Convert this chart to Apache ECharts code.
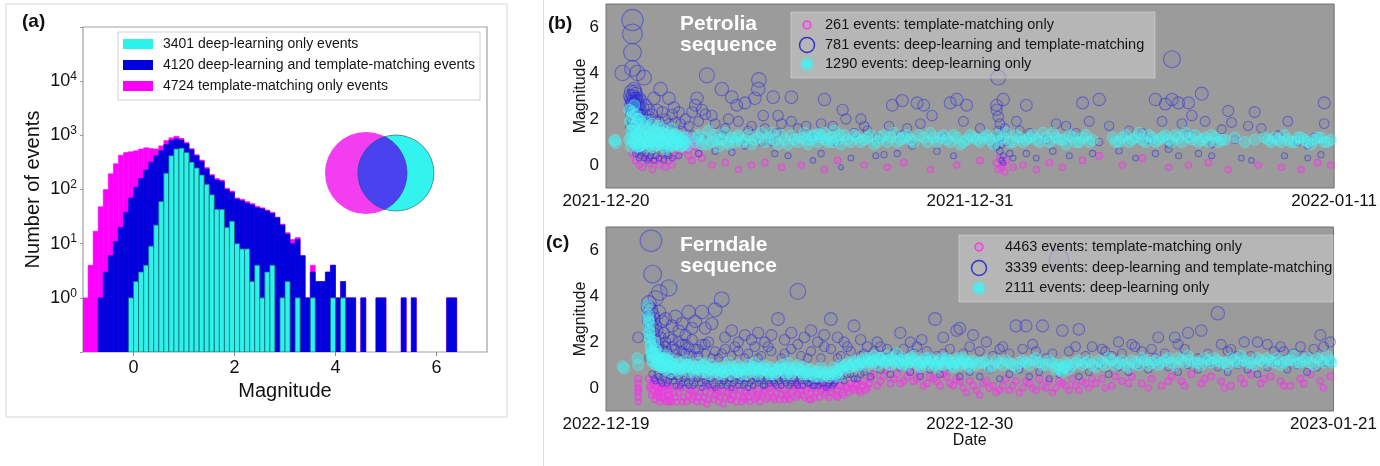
<!DOCTYPE html>
<html>
<head>
<meta charset="utf-8">
<script src="https://cdn.jsdelivr.net/npm/echarts@6.0.0/dist/echarts.min.js"></script>
<style>
html,body{margin:0;padding:0;background:#fff;}
#chart{width:1380px;height:466px;}
</style>
</head>
<body>
<div id="chart"></div>
<script>
// ---------------- DATA ----------------
// Histogram (panel a): counts per 0.1-magnitude bin, first bin starts at -1.0
const histBinStart = -1.0;
const histBinWidth = 0.1;
const histXTicks = [0, 2, 4, 6];
const tmOnlyCounts = [1,4,17,48,100,195,300,430,480,500,
  520,560,590,570,560,640,800,900,960,880,
  740,570,440,350,255,190,160,150,106,94,
  70,66,60,55,49,46,42,38,31,23,
  16,12,13,6,1,4,2,2,3,4,
  1,2,1,1,0,1,0,0,1,1,
  0,0,0,1,0,1,0,0,0,0,
  0,0,1,1];
const bothCounts = [0,0,0,1,3,6,11,20,38,70,
  110,160,230,320,420,520,680,800,860,820,
  700,540,420,330,240,180,150,140,100,88,
  66,62,56,52,46,44,40,36,30,22,
  15,10,12,6,1,3,2,2,3,4,
  1,2,1,1,0,1,0,0,1,1,
  0,0,0,1,0,1,0,0,0,0,
  0,0,1,1];
const dlOnlyCounts = [0,0,0,0,0,0,0,0,0,1,
  2,3,4,9,22,60,200,420,560,580,
  480,320,250,185,125,80,43,43,20,26,
  10,8,8,2,4,1,3,4,0,1,
  2,0,1,0,0,1,0,0,0,1,
  0,1,0,0,0,0,0,0,0,0,
  0,0,0,0,0,0,0,0,0,0,
  0,0,0,0];
const histLegend = ['3401 deep-learning only events','4120 deep-learning and template-matching events','4724 template-matching only events'];

// Panel b / c: x = days since the first tick date, y = magnitude
const petDates = ['2021-12-20','2021-12-31','2022-01-11'];
const ferDates = ['2022-12-19','2022-12-30','2023-01-21'];
const magTicks = [0, 2, 4, 6];
const petLegend = ['261 events: template-matching only','781 events: deep-learning and template-matching','1290 events: deep-learning only'];
const ferLegend = ['4463 events: template-matching only','3339 events: deep-learning and template-matching','2111 events: deep-learning only'];

const petMag = [[0.8,0.5],[0.9,0.2],[1.0,0.0],[1.1,-0.1],[1.2,0.3],[1.3,0.1],[1.4,-0.2],[1.5,0.2],[1.6,0.0],[1.7,0.3],[1.8,-0.1],[1.9,0.2],[2.0,0.0],[2.1,0.4],[2.3,0.6],[2.4,0.9],[2.5,0.7],[2.6,1.1],[2.5,0.4],[2.7,0.8],[2.8,0.5],[2.9,0.3],[2.6,0.2],[2.45,1.2],[3.2,0.0],[3.6,0.1],[4.0,-0.2],[4.4,0.0],[4.8,0.1],[5.3,-0.1],[5.9,0.0],[6.6,-0.2],[7.0,0.2],[7.8,0.0],[8.5,-0.1],[9.0,0.1],[9.8,-0.2],[10.6,0.0],[11.3,0.2],[11.8,0.1],[11.85,-0.2],[11.9,0.3],[11.95,-0.1],[12.0,0.0],[12.05,-0.3],[12.1,0.2],[12.3,-0.1],[12.6,0.0],[13.0,-0.2],[13.4,0.1],[13.8,-0.1],[14.4,0.2],[14.9,0.4],[15.6,0.0],[16.2,0.3],[17.0,-0.1],[17.6,0.0],[18.2,0.1],[18.8,-0.2],[19.7,0.0],[20.4,-0.1],[21.0,-0.2],[21.5,0.1],[21.9,0.0]];

const petBoth = [[0.5,4.0],[0.8,6.3],[0.8,5.7],[0.8,4.9],[0.8,4.2],[0.95,4.0],[1.15,3.8],[0.85,3.3],[0.9,3.1],[0.75,2.9],[0.8,2.7],[0.85,2.5],[0.9,2.8],[0.95,2.6],[1.0,2.9],[0.78,2.3],[0.88,2.2],[1.05,2.4],[1.1,2.2],[1.2,2.6],[1.3,2.4],[1.45,2.9],[1.55,2.4],[1.65,3.3],[1.9,2.9],[2.1,1.85],[2.25,1.8],[2.7,2.6],[2.75,2.9],[2.9,2.4],[3.05,3.9],[3.2,2.15],[3.5,3.3],[3.7,2.0],[3.8,2.95],[3.95,2.6],[4.2,2.7],[4.5,2.9],[4.6,3.3],[4.62,3.7],[4.75,2.15],[5.05,2.95],[5.2,2.15],[5.6,2.95],[5.6,1.9],[5.15,1.4],[6.05,1.7],[6.6,2.85],[6.15,1.15],[6.85,1.7],[7.15,2.4],[7.25,2.0],[7.7,2.0],[7.5,1.4],[6.95,1.0],[8.65,2.6],[8.95,2.8],[9.4,2.7],[9.6,2.6],[9.85,2.15],[8.55,1.7],[9.1,1.6],[10.4,2.7],[10.6,2.85],[10.9,2.6],[11.85,3.8],[12.0,2.85],[11.8,2.6],[12.7,2.6],[12.4,1.9],[14.4,2.7],[14.9,2.85],[14.6,1.9],[13.9,1.7],[14.2,1.4],[15.2,1.7],[16.2,1.4],[16.6,2.85],[16.9,2.65],[17.1,2.85],[17.3,2.7],[17.6,2.7],[18.0,3.1],[17.1,4.6],[17.4,1.8],[17.7,2.15],[18.8,2.35],[18.9,1.85],[19.6,2.3],[19.4,1.7],[18.6,1.55],[21.7,2.7],[21.7,1.8],[20.9,1.0],[21.2,0.85],
 [0.8,1.9],[0.9,1.6],[1.0,1.2],[1.1,0.6],[1.2,0.5],[1.3,0.3],[1.4,0.6],[1.5,0.4],[1.7,0.5],[1.9,0.4],[0.9,0.5],[1.0,0.3],[1.6,1.9],[1.8,1.6],[2.0,2.2],[2.3,1.5],[2.5,1.7],[2.6,1.3],
 [11.8,2.4],[11.85,2.1],[11.9,1.8],[11.85,1.5],[11.9,1.2],[11.95,0.9],[11.9,0.6],[12.0,0.4],[11.95,0.2],[12.05,1.6],[12.1,1.0],[12.0,0.1],[11.8,0.8],[12.2,0.5],[12.3,0.3],
 [2.8,0.5],[3.3,0.6],[3.8,0.55],[4.2,0.84],[4.7,1.0],[5.1,0.5],[5.5,0.4],[6.25,0.2],[6.5,0.5],[7.1,-0.1],[7.4,0.3],[8.15,0.4],[8.4,0.45],[8.8,0.5],[9.25,0.84],[10.0,0.6],[10.5,0.4],[12.7,0.5],[13.0,0.3],[13.5,0.6],[14.0,0.4],[14.7,0.5],[15.5,0.62],[16.0,0.3],[16.6,0.5],[17.0,0.7],[17.3,0.4],[17.9,0.5],[18.3,0.4],[19.2,0.3],[19.5,0.2],[20.5,0.4],[21.2,0.3],[21.6,0.45],
 [2.9,1.2],[3.5,1.3],[4.3,1.5],[5.0,1.0],[5.8,1.6],[6.3,1.2],[7.9,1.5],[8.9,1.3],[10.2,1.2],[12.8,1.4],[13.3,1.1],[14.9,1.0],[16.4,1.1],[17.0,0.9],[17.6,1.3],[18.3,0.9],[19.0,1.1],[20.3,1.3],[21.4,1.2],
 [0.72,3.0],[0.74,2.6],[0.76,3.2],[0.78,2.8],[0.8,3.0],[0.82,2.4],[0.84,2.9],[0.86,2.7],[0.88,3.2],[0.9,2.5],[0.92,2.9],[0.94,2.3],[0.96,2.8],[0.98,2.1],[1.0,2.6],[1.02,2.2],[1.05,2.8],[1.08,2.0],[1.12,2.5],[1.15,1.9],[1.2,2.2],[1.25,1.8],[0.75,2.2],[0.8,2.0],[0.85,1.8],[0.9,2.0],[0.95,1.7],[1.0,1.9],[0.72,1.6],[0.8,1.3],[0.85,0.9],[0.95,0.6],[1.05,0.4],[1.15,0.3],[1.25,0.2],[1.35,0.4],[1.45,0.2],[1.6,0.3],[1.75,0.2],[1.85,0.5],[2.0,0.3],[2.2,0.4],
 [1.3,2.0],[1.4,2.2],[1.5,1.9],[1.7,2.3],[1.8,2.0],[1.9,1.8],[2.05,2.5],[2.2,2.3],[2.4,2.0],[2.6,2.3],[2.8,1.9],[3.0,2.2],[3.3,1.8],[3.6,1.6],[4.0,1.9],[4.4,1.7],[4.8,1.6],[5.3,1.8],[6.5,1.8],[7.8,1.7],[8.2,1.2],[9.5,1.8],[10.8,1.9],[11.3,1.6],[12.5,1.5],[13.6,1.8],[15.8,1.5],[16.8,1.9],[18.1,1.9],[19.8,1.6],[20.6,1.9]];

const petDL = [[0.25,1.05],[0.3,0.95],[0.28,1.1],
 [0.7,2.4],[0.72,1.9],[0.75,1.5],[0.7,1.1],[0.75,0.8],[0.78,2.1],[0.85,2.6],[0.85,1.7],[0.9,1.3],[0.9,0.9],[0.95,2.0],[0.95,1.1],[1.0,1.5],[1.0,0.8],[0.88,1.0],[0.92,1.8],
 [1.1,1.2],[1.1,0.9],[1.15,1.6],[1.2,1.0],[1.25,0.8],[1.3,1.3],[1.35,1.0],[1.4,0.75],[1.45,1.5],[1.5,1.1],[1.2,1.9],[1.4,1.8],
 [1.55,0.85],[1.6,1.3],[1.65,1.0],[1.7,1.6],[1.75,0.8],[1.8,1.2],[1.85,1.0],[1.9,1.4],[1.95,0.8],[2.0,1.1],[2.05,1.3],[2.1,0.9],[2.15,1.2],[2.2,1.0],[2.25,0.8],[2.3,1.1],[2.35,0.9],[2.4,1.2],[2.45,0.85],[1.6,1.7],[2.0,1.6],[1.8,0.7],
 [0.75,1.2],[0.8,1.0],[0.8,1.5],[0.85,1.2],[0.9,1.5],[0.95,0.8],[1.0,1.0],[1.05,1.3],[1.05,0.85],[1.1,1.5],[1.15,1.0],[1.2,1.3],[1.25,1.1],[1.3,0.9],[1.35,1.4],[1.4,1.0],[1.45,1.2],[1.5,0.9],[1.55,1.3],[1.6,1.0],[1.65,1.4],[1.7,1.1],[1.75,1.3],[1.8,0.95],[1.85,1.35],[1.9,1.1],[1.95,1.25],[2.0,0.85],[2.05,1.0],[2.1,1.3],[2.15,0.9],[2.2,1.25],[2.25,1.05],[2.3,0.85],[2.35,1.2],[2.4,1.0],[0.8,2.3],[0.9,2.2],[1.0,2.0],[1.1,1.8],[1.3,1.6],[1.5,1.5],
 [2.7,1.0],[2.8,1.3],[2.9,0.9],[3.0,1.2],[3.1,1.5],[3.2,1.0],[3.3,1.3],[3.4,0.8],[3.5,1.1],[3.6,1.4],[3.7,0.9],[3.8,1.2],[3.9,1.0],[4.0,1.3],[4.2,1.1],[4.4,0.9],[4.6,1.2],[4.8,1.0],[5.0,1.4],[5.2,0.9],[5.4,1.1],[5.6,1.3],[5.8,1.0],[5.9,1.2],[6.0,1.4],[6.1,0.9],[6.2,1.1],[6.3,1.3],[6.4,1.0],[6.5,1.2],[6.6,1.4],[6.7,1.0],[6.8,1.2],[6.9,1.5],[7.0,1.1],[7.1,0.9],[7.2,1.3],[7.4,1.0],[7.6,1.2],[7.8,1.1],[8.0,1.3],[8.1,0.9],[8.3,1.2],[8.5,1.0],[8.7,1.4],[8.9,1.1],[9.1,1.3],[9.3,1.0],[9.6,1.2],[9.8,1.4],[10.0,1.0],[10.1,1.2],[10.3,1.1],[10.5,1.3],[10.7,0.9],[10.9,1.1],[11.1,1.2],[11.3,1.0],[11.5,1.3],[11.7,0.9],[11.9,1.1],[12.1,1.4],[12.3,1.0],[12.5,1.2],[12.7,1.1],[12.9,1.3],[13.1,1.0],[13.3,1.2],[13.5,1.4],[13.7,1.1],[13.9,0.9],[14.1,1.2],[14.3,1.0],[14.5,1.3],[14.7,1.1],[15.3,1.2],[15.5,1.0],[15.7,1.3],[15.9,1.1],[16.1,1.4],[16.3,1.0],[16.5,1.2],[16.7,1.1],[16.9,1.3],[17.1,1.0],[17.3,1.2],[17.5,1.4],[17.7,1.1],[17.9,1.0],[18.1,1.2],[18.3,1.3],[18.5,1.0],[18.7,1.1],[19.0,1.2],[19.3,1.0],[19.6,1.1],[19.9,1.2],[20.1,1.0],[20.3,1.1],[20.5,1.3],[20.7,1.0],[20.9,1.2],[21.1,1.1],[21.3,0.9],[21.5,1.2],[21.7,1.0],[21.9,1.1],
 [2.75,1.2],[3.05,0.9],[3.35,1.1],[3.65,1.0],[3.95,1.2],[4.1,1.0],[4.3,1.3],[4.5,1.1],[4.7,1.4],[4.9,1.2],[5.1,1.1],[5.3,1.3],[5.5,0.9],[5.7,1.1],[6.05,1.1],[6.25,1.25],[6.45,1.35],[6.65,1.1],[6.85,1.0],[7.05,1.3],[7.3,1.1],[7.5,1.3],[7.7,1.0],[7.9,1.2],[8.2,1.0],[8.4,1.3],[8.6,1.2],[8.8,1.0],[9.0,1.2],[9.2,1.1],[9.45,1.3],[9.7,1.0],[9.9,1.2],[10.2,1.3],[10.4,1.0],[10.6,1.2],[10.8,1.0],[11.0,1.3],[11.2,1.1],[11.4,1.2],[11.6,1.1],[11.8,1.3],[12.0,1.2],[12.2,1.0],[12.4,1.3],[12.6,1.0],[12.8,1.2],[13.0,1.1],[13.2,1.4],[13.4,1.0],[13.6,1.2],[13.8,1.1],[14.0,1.3],[14.2,1.0],[14.4,1.2],[14.6,1.0],[15.4,1.0],[15.6,1.2],[15.8,1.0],[16.0,1.2],[16.2,1.1],[16.4,1.3],[16.6,1.0],[16.8,1.2],[17.0,1.1],[17.2,1.3],[17.4,1.0],[17.6,1.2],[17.8,1.3],[18.0,1.1],[18.2,1.0],[18.4,1.2],[18.6,1.1],[20.0,1.1],[20.2,1.2],[20.4,1.0],[20.6,1.1],[20.8,1.0],[21.0,1.2],[21.2,1.0],[21.4,1.1],[21.6,1.2],[21.8,1.0]];

const ferMag = [[0.97,0.4],[0.97,0.2],[0.97,0.0],[0.97,-0.2],[0.97,-0.4],[0.97,-0.6],[0.98,-0.1],
 [1.3,0.4],[1.35,0.1],[1.4,-0.1],[1.45,0.3],[1.5,-0.3],[1.55,0.0],[1.6,-0.4],[1.65,0.2],[1.7,-0.2],[1.75,-0.5],[1.8,0.1],[1.85,-0.3],[1.9,-0.1],[1.95,-0.5],[2.0,0.0],[2.1,-0.4],[2.2,-0.2],[2.3,-0.6],[2.4,0.0],[2.5,-0.3],[2.6,-0.5],[2.7,-0.1],[2.8,-0.4],[2.9,-0.6],[3.0,-0.2],[3.1,-0.5],[3.2,0.0],[3.3,-0.3],[3.4,-0.6],[3.5,-0.1],[3.6,-0.4],[3.7,-0.2],[3.8,-0.5],[3.9,0.0],[4.0,-0.3],[4.1,-0.6],[4.2,-0.1],[4.3,-0.4],[4.4,-0.2],[4.5,-0.5],[4.6,0.0],[4.7,-0.3],[4.8,-0.1],[4.9,-0.4],[5.0,-0.2],[5.1,-0.5],[5.2,0.0],[5.3,-0.3],[5.4,-0.1],[5.5,-0.4],[5.6,-0.2],[5.7,0.1],[5.8,-0.3],[5.9,-0.1],[6.0,-0.4],[6.1,0.0],[6.2,-0.2],[6.3,-0.4],[6.4,0.1],[6.5,-0.1],[6.6,-0.3],[6.7,0.0],[6.8,-0.2],[6.9,0.2],[7.0,-0.1],[7.1,0.1],[7.2,-0.3],[7.3,0.0],[7.4,0.2],[7.5,-0.1],[7.6,0.1],[7.7,-0.2],[7.8,0.3],[7.9,0.0],[8.0,0.4],[8.2,0.1],[8.4,0.5],[8.6,0.2],[8.8,0.6],[9.0,0.3],[9.2,0.7],[9.4,0.4],[9.6,0.1],[9.8,0.5],[10.0,0.3],[10.2,0.6],[10.4,0.2],[10.6,0.4],[10.8,0.0],[11.0,0.3],[11.2,-0.1],[11.4,0.2],[11.6,0.0],[11.8,-0.2],[12.0,0.1],[12.2,-0.1],[12.4,0.3],[12.6,0.0],[12.8,0.2],[13.0,-0.1],[13.2,0.1],[13.4,0.3],[13.6,0.0],[13.8,0.2],[14.0,-0.1],[14.2,0.1],[14.4,0.3],[14.6,0.0],[14.8,0.2],[15.0,0.4],[15.3,0.1],[15.6,0.3],[15.9,0.5],[16.2,0.2],[16.5,0.4],[16.8,0.1],[17.1,0.5],[17.4,0.3],[17.7,0.6],[18.0,0.2],[18.3,0.5],[18.6,0.3],[18.9,0.1],[19.2,0.4],[19.5,0.6],[19.8,0.2],[20.1,0.5],[20.4,0.3],[20.7,0.1],[21.0,0.4],[21.3,0.6],[21.6,0.3],[21.9,0.5],
 [1.6,-0.1],[1.9,-0.6],[2.2,0.1],[2.6,-0.2],[3.0,0.1],[3.4,-0.2],[3.8,-0.1],[4.2,-0.5],[4.6,-0.3],[5.0,0.1],[5.4,-0.5],[5.8,0.0],[6.2,-0.5],[6.6,0.1],[7.0,-0.4],
 [1.32,0.0],[1.38,-0.3],[1.42,0.2],[1.48,-0.5],[1.52,0.1],[1.58,-0.2],[1.62,-0.6],[1.68,0.0],[1.72,-0.4],[1.78,-0.1],[1.82,-0.6],[1.88,0.1],[1.92,-0.3],[1.98,-0.6],[2.05,-0.2],[2.15,-0.6],[2.25,0.0],[2.35,-0.4],[2.45,-0.6],[2.55,-0.1],[2.65,-0.4],[2.75,-0.6],[2.85,-0.2],[2.95,-0.4],[3.05,-0.7],[3.15,-0.2],[3.25,-0.5],[3.35,-0.1],[3.45,-0.4],[3.55,-0.7],[3.65,-0.2],[3.75,-0.5],[3.85,-0.3],[3.95,-0.6],[4.05,-0.1],[4.15,-0.4],[4.25,-0.2],[4.35,-0.6],[4.45,-0.1],[4.55,-0.4],[4.65,-0.6],[4.75,-0.2],[4.85,-0.5],[4.95,0.0],[5.05,-0.4],[5.15,-0.2],[5.25,-0.5],[5.35,0.0],[5.45,-0.3],[5.55,-0.5],[5.65,-0.1],[5.75,-0.4],[5.85,0.1],[5.95,-0.3],[6.05,-0.1],[6.15,-0.5],[6.25,0.0],[6.35,-0.2],[6.45,-0.4],[6.55,0.0],[6.65,-0.2],[6.75,-0.4],[6.85,0.0],[6.95,-0.3],[7.05,0.1],[7.15,-0.2],[7.25,0.1],[7.35,-0.2],[7.45,0.0],[7.55,0.2],[7.65,-0.1],[7.75,0.1],[7.85,-0.1],[7.95,0.2],[8.1,0.6],[8.3,0.3],[8.5,0.8],[8.7,0.4],[8.9,0.2],[9.1,0.5],[9.3,0.3],[9.5,0.6],[9.7,0.2],[9.9,0.4],[10.1,0.1],[10.3,0.5],[10.5,0.1],[10.7,0.3],[10.9,-0.2],[11.1,0.1],[11.3,-0.3],[11.5,0.3],[11.7,0.1],[11.9,-0.1],[12.1,0.4],[12.3,0.1],[12.5,-0.2],[12.7,0.3],[12.9,0.0],[13.1,0.4],[13.3,0.0],[13.5,-0.2],[13.7,0.3],[13.9,0.1],[14.1,0.4],[14.3,-0.1],[14.5,0.2],[14.7,0.4],[15.1,0.0],[15.4,0.5],[15.8,0.2],[16.4,0.0],[17.0,0.3],[17.5,0.1],[18.1,0.4],[18.7,0.0],[19.3,0.2],[19.9,0.4],[20.5,0.1],[21.1,0.2],[21.7,0.0]];

const ferBoth = [[0.97,2.2],[1.36,6.4],[1.41,4.95],[1.61,4.15],[1.9,4.35],[1.5,3.9],[1.3,3.7],[1.35,3.4],[1.4,3.2],[1.45,3.0],[1.3,2.9],[1.5,2.7],[1.6,3.3],[1.7,2.9],[1.8,3.0],[2.0,2.7],[2.1,3.1],[2.2,2.5],[2.3,2.8],[2.4,2.3],[2.5,3.3],[2.6,2.6],[2.7,2.9],[2.9,3.3],[3.0,2.6],[3.3,3.4],[3.5,3.85],[3.2,2.8],[3.6,2.2],[3.8,2.5],[4.0,2.0],[4.2,2.3],[4.4,2.1],[4.6,2.4],[4.8,2.0],[5.0,2.3],[5.2,3.0],[5.4,2.1],[5.6,2.4],[5.8,4.2],[6.0,2.2],[6.2,2.5],[6.4,2.0],[6.6,2.3],[6.8,3.0],[7.0,2.2],[7.2,2.0],[7.5,2.7],[7.7,2.1],[7.9,1.8],[8.2,2.0],[8.5,1.7],[8.9,2.4],[9.2,2.0],[9.55,2.1],[9.95,3.0],[10.2,2.2],[10.6,2.5],[10.7,2.6],[11.1,2.3],[11.5,2.0],[12.0,1.8],[12.4,2.7],[12.7,2.7],[13.2,2.7],[13.7,5.6],[13.8,2.5],[14.3,2.55],[14.7,1.8],[15.1,1.6],[15.5,2.0],[15.9,1.9],[16.5,1.7],[16.7,2.2],[17.2,2.2],[17.6,2.4],[18.0,2.5],[18.5,3.25],[18.9,1.7],[19.3,2.0],[19.7,2.0],[20.0,1.9],[20.5,1.6],[21.0,1.8],[21.6,2.3],[21.9,2.0],
 [1.28,3.5],[1.3,3.1],[1.32,2.6],[1.35,2.3],[1.38,2.0],[1.4,2.7],[1.42,1.8],[1.45,2.4],[1.5,2.1],[1.55,2.5],[1.6,1.9],[1.65,2.2],[1.7,1.7],[1.75,2.4],[1.8,2.0],[1.85,1.6],[1.9,2.2],[2.0,1.8],[2.1,1.5],[2.2,2.0],[2.3,1.6],[2.4,1.9],[2.5,1.5],[2.6,2.1],[2.7,1.7],[2.8,1.4],[2.9,1.9],[3.0,1.5],[3.1,2.0],[3.3,1.6],[3.4,1.3],[3.6,1.7],[3.8,1.4],[4.0,1.6],[4.2,1.3],[4.5,1.8],[4.7,1.4],[5.0,1.6],[5.3,1.3],[5.6,1.7],[5.9,1.4],[6.2,1.6],[6.5,1.3],[6.8,1.7],[7.1,1.4],[7.4,1.6],[7.8,1.5],[8.1,1.6],[8.4,1.3],[8.7,1.5],[9.0,1.7],[9.3,1.5],[9.7,1.6],[10.0,1.4],[10.4,1.7],[10.8,1.5],[11.3,1.6],[11.7,1.4],[12.2,1.5],[12.6,1.7],[13.0,1.6],[13.5,1.5],[14.0,1.6],[14.5,1.4],[15.0,1.7],[15.6,1.5],[16.2,1.6],[16.9,1.5],[17.5,1.7],[18.2,1.5],[18.8,1.6],[19.5,1.4],[20.2,1.6],[20.8,1.5],[21.4,1.7],
 [1.3,1.3],[1.4,1.7],[1.5,1.4],[1.6,1.7],[1.7,1.4],[1.8,1.8],[1.9,1.4],[2.0,2.1],[2.1,1.7],[2.2,1.3],[2.3,1.9],[2.4,1.5],[2.5,1.8],[2.6,1.4],[2.8,1.7],[3.0,1.9],[3.2,1.3],[3.5,1.5],[3.9,1.8],[4.3,1.5],[4.6,1.3],[4.9,1.8],[5.4,1.5],[5.8,1.9],[6.1,1.3],[6.6,1.8],[7.0,1.3],[7.3,1.8],[7.7,1.4],[8.3,1.8],[8.8,1.3],[9.4,1.8],[10.2,1.5],[11.0,1.8],[11.9,1.7],[12.9,1.9],[13.3,1.3],[14.2,1.8],[15.3,1.4],[16.0,1.8],[16.6,1.3],[17.3,1.9],[17.9,1.3],[18.6,1.9],[19.1,1.4],[20.4,1.8],[21.1,1.4],[21.7,1.8],
 [1.4,0.6],[1.5,0.3],[1.6,0.5],[1.7,0.2],[1.8,0.6],[1.9,0.3],[2.0,0.5],[2.1,0.1],[2.2,0.4],[2.3,0.2],[2.4,0.5],[2.5,0.1],[2.6,0.4],[2.7,0.2],[2.8,0.5],[2.9,0.0],[3.0,0.3],[3.1,0.1],[3.2,0.4],[3.3,0.0],[3.4,0.3],[3.5,0.1],[3.6,0.4],[3.7,0.2],[3.8,0.0],[3.9,0.3],[4.0,0.1],[4.1,0.4],[4.2,0.2],[4.3,0.0],[4.4,0.3],[4.5,0.5],[4.6,0.2],[4.7,0.4],[4.8,0.1],[4.9,0.3],[5.0,0.5],[5.1,0.2],[5.2,0.4],[5.3,0.1],[5.4,0.3],[5.5,0.5],[5.6,0.2],[5.7,0.4],[5.8,0.1],[5.9,0.3],[6.0,0.5],[6.1,0.2],[6.2,0.4],[6.3,0.1],[6.4,0.3],[6.5,0.2],[6.6,0.4],[6.7,0.1],[6.8,0.3],[6.9,0.2],[7.0,0.4],[7.2,0.3],[7.4,0.6],[7.6,0.4],[7.8,0.7],[8.0,0.5],[8.3,0.8],[8.6,0.6],[8.9,0.9],[9.2,0.7],[9.5,0.5],[9.8,0.8],[10.1,0.6],[10.4,0.9],[10.7,0.5],[11.0,0.7],[11.3,0.5],[11.6,0.8],[11.9,0.4],[12.2,0.6],[12.5,0.8],[12.8,0.5],[13.1,0.7],[13.4,0.4],[13.7,0.6],[14.0,0.9],[14.3,0.5],[14.6,0.7],[14.9,1.0],[15.2,0.6],[15.5,0.9],[15.8,0.7],[16.1,1.0],[16.4,0.8],[16.7,1.1],[17.0,0.9],[17.3,0.7],[17.6,1.0],[17.9,0.8],[18.2,1.1],[18.5,0.9],[18.8,0.7],[19.1,1.0],[19.4,0.8],[19.7,0.6],[20.0,0.9],[20.3,1.1],[20.6,0.8],[20.9,1.0],[21.2,0.7],[21.5,0.9],[21.8,1.1],
 [1.45,0.4],[1.55,0.6],[1.65,0.3],[1.75,0.5],[1.85,0.2],[1.95,0.5],[2.05,0.3],[2.15,0.5],[2.25,0.1],[2.35,0.4],[2.45,0.2],[2.55,0.5],[2.65,0.1],[2.75,0.4],[2.85,0.2],[2.95,0.5],[3.05,0.2],[3.15,0.4],[3.25,0.1],[3.35,0.5],[3.45,0.2],[3.55,0.3],[3.65,0.1],[3.75,0.4],[3.85,0.2],[3.95,0.5],[4.05,0.3],[4.15,0.1],[4.25,0.4],[4.35,0.2],[4.45,0.1],[4.55,0.4],[4.65,0.3],[4.75,0.1],[4.85,0.4],[4.95,0.2],[5.05,0.3],[5.15,0.1],[5.25,0.3],[5.35,0.4],[5.45,0.2],[5.55,0.1],[5.65,0.3],[5.75,0.2],[5.85,0.4],[5.95,0.1],[6.05,0.3],[6.15,0.2],[6.25,0.1],[6.35,0.3],[6.45,0.1],[6.55,0.2],[6.65,0.0],[6.75,0.2],[6.85,0.1],[6.95,0.3],[7.1,0.5],[7.3,0.6],[7.5,0.4],[7.7,0.6]];

const ferDL = [[0.5,0.95],[0.55,0.85],[0.95,1.3],[0.97,1.0],
 [1.25,3.6],[1.27,3.2],[1.3,2.9],[1.3,2.5],[1.32,2.2],[1.35,1.9],[1.35,1.6],[1.38,1.4],[1.4,1.2],[1.45,2.0],[1.5,1.7],[1.5,1.3],[1.55,1.1],[1.6,1.5],[1.65,0.9],[1.7,1.3],[1.75,1.1],[1.8,0.8],[1.85,1.4],[1.9,1.0],[1.95,0.7],[2.0,1.2],[2.1,0.9],[2.2,1.1],[2.3,0.8],[2.4,1.2],[2.5,0.7],[2.6,1.0],[2.7,0.8],[2.8,1.1],[2.9,0.7],[3.0,0.9],[3.1,0.6],[3.2,1.0],[3.3,0.8],[3.4,0.6],[3.5,0.9],[3.6,0.7],[3.7,1.1],[3.8,0.6],[3.9,0.8],[4.0,1.0],[4.1,0.6],[4.2,0.8],[4.3,1.0],[4.4,0.7],[4.5,0.9],[4.6,0.6],[4.7,0.8],[4.8,1.0],[4.9,0.7],[5.0,0.9],[5.1,0.6],[5.2,0.8],[5.3,1.0],[5.4,0.7],[5.5,0.9],[5.6,0.6],[5.7,0.8],[5.8,1.0],[5.9,0.7],[6.0,0.9],[6.1,0.6],[6.2,0.8],[6.3,0.5],[6.4,0.7],[6.5,0.9],[6.6,0.5],[6.7,0.7],[6.8,0.6],[6.9,0.9],[7.0,0.7],[7.1,1.0],[7.2,0.8],[7.3,1.1],[7.4,0.9],[7.5,1.2],[7.6,0.9],[7.7,1.1],[7.8,1.3],[7.9,1.0],[8.0,1.2],[8.1,1.4],[8.2,1.0],[8.3,1.3],[8.4,1.1],[8.5,1.4],[8.6,1.0],[8.7,1.2],[8.8,1.5],[8.9,1.1],[9.0,1.3],[9.1,1.0],[9.2,1.2],[9.3,1.4],[9.4,1.1],[9.5,0.9],[9.6,1.2],[9.7,1.0],[9.8,1.3],[9.9,1.1],[10.0,0.9],[10.1,1.2],[10.2,1.0],[10.3,1.3],[10.4,1.1],[10.5,0.9],[10.6,1.2],[10.7,1.0],[10.8,1.3],[10.9,1.1],[11.0,0.9],[11.1,1.2],[11.2,1.0],[11.4,1.1],[11.6,0.9],[11.8,1.2],[12.0,1.0],[12.2,1.1],[12.4,0.9],[12.6,1.2],[12.8,1.0],[13.0,1.3],[13.2,1.0],[13.4,1.2],[13.6,0.8],[13.7,1.0],[13.8,0.7],[13.9,1.1],[14.0,0.8],[14.2,1.1],[14.4,1.0],[14.6,1.2],[14.8,0.9],[15.0,1.1],[15.2,1.3],[15.4,1.0],[15.6,1.2],[15.8,0.9],[16.0,1.1],[16.2,1.3],[16.4,1.0],[16.6,1.2],[16.8,1.1],[17.0,1.3],[17.2,1.0],[17.4,1.2],[17.6,1.4],[17.8,1.1],[18.0,1.0],[18.2,1.2],[18.4,1.3],[18.6,1.1],[18.8,1.0],[19.0,1.2],[19.2,1.4],[19.4,1.1],[19.6,1.0],[19.8,1.2],[20.0,1.3],[20.2,1.1],[20.4,1.0],[20.6,1.2],[20.8,1.4],[21.0,1.1],[21.2,1.3],[21.4,1.0],[21.6,1.2],[21.8,1.4],[21.95,1.1],
 [1.4,1.6],[1.45,1.4],[1.6,1.2],[1.7,0.9],[1.8,1.2],[2.0,0.9],[2.2,0.7],[2.5,1.0],[3.0,1.1],[3.5,0.6],[4.0,0.7],[4.5,1.1],[5.0,0.6],[5.5,1.1],[6.0,0.6],[7.0,0.5],
 [1.28,3.0],[1.3,2.7],[1.32,2.4],[1.34,2.1],[1.36,1.8],[1.4,1.5],[1.42,1.1],[1.48,1.5],[1.52,1.0],[1.58,1.3],[1.62,1.0],[1.68,1.2],[1.72,1.0],[1.78,1.3],[1.82,1.0],[1.88,1.2],[1.92,0.9],[1.98,1.1],[2.05,1.0],[2.15,0.8],[2.25,1.0],[2.35,0.9],[2.45,1.0],[2.55,0.9],[2.65,0.7],[2.75,0.9],[2.85,0.8],[2.95,1.0],[3.05,0.7],[3.15,0.8],[3.25,0.7],[3.35,0.9],[3.45,0.8],[3.55,0.7],[3.65,0.9],[3.75,0.8],[3.85,0.9],[3.95,0.7],[4.05,0.8],[4.15,0.9],[4.25,0.6],[4.35,0.8],[4.45,0.9],[4.55,0.8],[4.65,0.7],[4.75,0.9],[4.85,0.8],[4.95,0.6],[5.05,0.8],[5.15,0.7],[5.25,0.9],[5.35,0.8],[5.45,0.6],[5.55,0.8],[5.65,0.7],[5.75,0.9],[5.85,0.8],[5.95,0.6],[6.05,0.7],[6.15,0.8],[6.25,0.6],[6.35,0.7],[6.45,0.5],[6.55,0.7],[6.65,0.6],[6.75,0.5],[6.85,0.7],[6.95,0.6],[7.05,0.8],[7.15,0.9],[7.25,1.0],[7.35,0.9],[7.45,1.0],[7.55,1.1],[7.65,1.0],[7.75,1.2],[7.85,1.1],[7.95,1.3],[8.05,1.1],[8.15,1.2],[8.25,1.3],[8.35,1.2],[8.45,1.1],[8.55,1.2],[8.65,1.3],[8.75,1.1],[8.85,1.2],[8.95,1.0],[9.05,1.2],[9.15,1.1],[9.25,1.3],[9.35,1.2],[9.45,1.0],[9.55,1.1],[9.65,1.3],[9.75,1.1],[9.85,1.2],[9.95,1.0],[10.05,1.1],[10.15,1.3],[10.25,1.1],[10.35,1.2],[10.45,1.0],[10.55,1.1],[10.65,1.3],[10.75,1.1],[10.85,1.2],[10.95,1.0],[11.05,1.1],[11.3,1.1],[11.5,1.2],[11.7,1.0],[11.9,1.1],[12.1,1.2],[12.3,1.0],[12.5,1.1],[12.7,1.1],[12.9,1.2],[13.1,1.1],[13.3,1.0],[13.5,1.1],[13.65,0.9],[13.75,0.8],[13.85,0.9],[13.95,1.0],[14.1,1.0],[14.3,1.2],[14.5,1.1],[14.7,1.0],[14.9,1.2],[15.1,1.0],[15.3,1.2],[15.5,1.1],[15.7,1.0],[15.9,1.2],[16.1,1.0],[16.3,1.2],[16.5,1.1],[16.7,1.0],[16.9,1.2],[17.1,1.1],[17.3,1.3],[17.5,1.1],[17.7,1.2],[17.9,1.1],[18.1,1.3],[18.3,1.1],[18.5,1.2],[18.7,1.1],[18.9,1.3],[19.1,1.1],[19.3,1.2],[19.5,1.1],[19.7,1.3],[19.9,1.1],[20.1,1.2],[20.3,1.3],[20.5,1.1],[20.7,1.2],[20.9,1.1],[21.1,1.2],[21.3,1.1],[21.5,1.3],[21.7,1.1],[21.9,1.2]];

// ---------------- CHART ----------------
const FONT = "'Liberation Sans', Arial, Helvetica, sans-serif";
const C_MAG = '#ff00ff', C_BLUE = '#0000dc', C_CYAN = '#2cf2ec';
const chart = echarts.init(document.getElementById('chart'), null, {renderer:'canvas'});

function histSeries(name, counts, fill, stroke, lw, z) {
  const data = [];
  counts.forEach((c, i) => { if (c > 0) data.push([+(histBinStart + i * histBinWidth).toFixed(2), c]); });
  return {
    type:'custom', name, xAxisIndex:0, yAxisIndex:0, data, z, clip:true,
    encode:{x:0, y:1},
    renderItem(params, api) {
      const x0 = api.value(0), c = api.value(1);
      const tl = api.coord([x0, c]);
      const br = api.coord([x0 + histBinWidth, 0.1]);
      return {type:'rect', shape:{x:tl[0], y:tl[1], width:br[0]-tl[0], height:br[1]-tl[1]},
        style:{fill, stroke, lineWidth:lw}};
    }
  };
}
const bothSize = v => Math.max(5, 5 + 2.6 * v[1]);
const magSize = v => Math.max(5, 6.5 + 0.8 * v[1]);

function scatterSet(xi, tm, both, dl) {
  return [
    {type:'scatter', xAxisIndex:xi, yAxisIndex:xi, data:tm, symbolSize:magSize, z:2,
      itemStyle:{color:'rgba(245,60,235,0.35)', borderColor:'rgba(245,50,230,0.75)', borderWidth:1.2}},
    {type:'scatter', xAxisIndex:xi, yAxisIndex:xi, data:both, symbolSize:bothSize, z:3,
      itemStyle:{color:'rgba(40,40,220,0.06)', borderColor:'rgba(45,45,220,0.62)', borderWidth:1.1}},
    {type:'scatter', xAxisIndex:xi, yAxisIndex:xi, data:dl, symbolSize:11, z:4,
      itemStyle:{color:'rgba(70,240,240,0.5)', borderColor:'rgba(90,245,245,0.55)', borderWidth:1}}
  ];
}

function dateAxis(gi, labels, name) {
  return {gridIndex:gi, type:'value', min:0, max:22, interval:11,
    name: name || '', nameLocation:'middle', nameGap:22, nameMoveOverlap:false,
    nameTextStyle:{fontSize:16, color:'#111', fontFamily:FONT},
    axisLine:{show:false, onZero:false}, axisTick:{show:false}, splitLine:{show:false},
    axisLabel:{fontSize:17, color:'#111', fontFamily:FONT, margin:5, showMinLabel:true, showMaxLabel:true,
      formatter: v => labels[Math.round(v / 11)] || ''}};
}
function magAxis(gi) {
  return {gridIndex:gi, type:'value', min:-1, max:7, name:'Magnitude', nameLocation:'middle', nameGap:17, nameMoveOverlap:false,
    nameTextStyle:{fontSize:16, color:'#111', fontFamily:FONT},
    axisLine:{show:false, onZero:false}, splitLine:{show:false},
    axisTick:{show:false},
    axisLabel:{customValues:magTicks, fontSize:17, color:'#111', fontFamily:FONT, margin:7}};
}

function legendGraphic(x, y, w, h, iconX, textX, rows, labels) {
  const els = [{type:'rect', shape:{x, y, width:w, height:h}, style:{fill:'rgba(215,215,215,0.45)', stroke:'rgba(225,225,225,0.5)', lineWidth:1}, z:100}];
  els.push({type:'circle', shape:{cx:iconX, cy:rows[0], r:4}, style:{fill:'rgba(245,60,235,0.2)', stroke:'#f040e0', lineWidth:1.5}, z:101});
  els.push({type:'circle', shape:{cx:iconX, cy:rows[1], r:7.5}, style:{fill:'rgba(0,0,0,0)', stroke:'#3434c8', lineWidth:1.5}, z:101});
  els.push({type:'circle', shape:{cx:iconX, cy:rows[2], r:5.5}, style:{fill:'rgba(80,235,235,0.85)', shadowBlur:5, shadowColor:'#50f0f0'}, z:101});
  labels.forEach((t, i) => els.push({type:'text', x:textX, y:rows[i], z:101,
    style:{text:t, fontSize:14.5, fontFamily:FONT, fill:'#151515', verticalAlign:'middle', align:'left'}}));
  return els;
}

// Venn lens outline (geometry of the two decorative circles)
function lensPoints(c1x, c2x, cy, r1, r2) {
  const d = c2x - c1x;
  const a = (d*d + r1*r1 - r2*r2) / (2*d);
  const t1 = Math.acos(a / r1), t2 = Math.acos((d - a) / r2);
  const pts = [];
  for (let k = 0; k <= 40; k++) { const t = -t1 + 2*t1*k/40; pts.push([c1x + r1*Math.cos(t), cy + r1*Math.sin(t)]); }
  for (let k = 0; k <= 40; k++) { const t = Math.PI - t2 + 2*t2*k/40; pts.push([c2x + r2*Math.cos(t), cy + r2*Math.sin(t)]); }
  return pts;
}

const graphics = [
  {type:'rect', shape:{x:6, y:4, width:501, height:413}, style:{fill:'none', stroke:'#d8d8d8', lineWidth:1}, z:0},
  {type:'line', shape:{x1:543.5, y1:0, x2:543.5, y2:466}, style:{stroke:'#dcdcdc', lineWidth:1}, z:0},
  {type:'text', x:22, y:22, style:{text:'(a)', fontSize:19, fontWeight:'bold', fontFamily:FONT, fill:'#111', verticalAlign:'middle'}},
  {type:'text', x:548, y:24, style:{text:'(b)', fontSize:19, fontWeight:'bold', fontFamily:FONT, fill:'#111', verticalAlign:'middle'}},
  {type:'text', x:546, y:243, style:{text:'(c)', fontSize:19, fontWeight:'bold', fontFamily:FONT, fill:'#111', verticalAlign:'middle'}},
  {type:'text', x:680, y:14, z:50, style:{text:'Petrolia\nsequence', fontSize:21, lineHeight:21, fontWeight:'bold', fontFamily:FONT, fill:'#fff'}},
  {type:'text', x:680, y:235, z:50, style:{text:'Ferndale\nsequence', fontSize:21, lineHeight:21, fontWeight:'bold', fontFamily:FONT, fill:'#fff'}},
  // histogram legend
  {type:'rect', shape:{x:118, y:32, width:362, height:68}, style:{fill:'#fff', stroke:'#d0d0d0', lineWidth:1}, z:100},
  {type:'rect', shape:{x:123, y:39, width:30, height:10}, style:{fill:C_CYAN}, z:101},
  {type:'rect', shape:{x:123, y:60, width:30, height:10}, style:{fill:C_BLUE}, z:101},
  {type:'rect', shape:{x:123, y:81, width:30, height:10}, style:{fill:C_MAG}, z:101},
  {type:'text', x:163, y:44, z:101, style:{text:histLegend[0], fontSize:14, fontFamily:FONT, fill:'#151515', verticalAlign:'middle'}},
  {type:'text', x:163, y:65, z:101, style:{text:histLegend[1], fontSize:14, fontFamily:FONT, fill:'#151515', verticalAlign:'middle'}},
  {type:'text', x:163, y:86, z:101, style:{text:histLegend[2], fontSize:14, fontFamily:FONT, fill:'#151515', verticalAlign:'middle'}},
  // Venn diagram
  {type:'circle', shape:{cx:366, cy:173, r:41}, style:{fill:'#f23ef0'}, z:20},
  {type:'circle', shape:{cx:396, cy:173, r:38}, style:{fill:'#33f3ee', stroke:'#2f7f7f', lineWidth:0.8}, z:21},
  {type:'polygon', shape:{points:lensPoints(366, 396, 173, 41, 38)}, style:{fill:'#4a42ee', stroke:'#3a3aa0', lineWidth:0.6}, z:22}
].concat(legendGraphic(791, 12, 364, 66, 807, 825, [25, 45, 64], petLegend))
 .concat(legendGraphic(959, 235, 374, 67, 979, 1005, [247, 268, 288], ferLegend));

const option = {
  animation:false,
  backgroundColor:'#ffffff',
  textStyle:{fontFamily:FONT},
  grid:[
    {left:83, top:27, width:404, height:325, show:true, borderColor:'#a0a0a0', borderWidth:1.2, backgroundColor:'#fff'},
    {left:606, top:4, width:735, height:184, show:true, borderColor:'#707070', borderWidth:1, backgroundColor:'#9b9b9b'},
    {left:606, top:227, width:735, height:184, show:true, borderColor:'#707070', borderWidth:1, backgroundColor:'#9b9b9b'}
  ],
  xAxis:[
    {gridIndex:0, type:'value', min:-1, max:7, name:'Magnitude', nameLocation:'middle', nameGap:22,
      nameTextStyle:{fontSize:20, color:'#111', fontFamily:FONT},
      axisLine:{show:false, onZero:false}, splitLine:{show:false},
      axisTick:{customValues:histXTicks, length:4, lineStyle:{color:'#888'}},
      axisLabel:{customValues:histXTicks, fontSize:18, color:'#111', fontFamily:FONT, margin:7}},
    dateAxis(1, petDates),
    dateAxis(2, ferDates, 'Date')
  ],
  yAxis:[
    {gridIndex:0, type:'log', min:0.1, max:100000, name:'Number of events', nameLocation:'middle', nameGap:40,
      nameTextStyle:{fontSize:20, color:'#111', fontFamily:FONT},
      axisLine:{show:false, onZero:false}, splitLine:{show:false},
      axisTick:{show:true, length:3, lineStyle:{color:'#999'}},
      axisLabel:{fontSize:18, color:'#111', fontFamily:FONT, margin:6,
        formatter: v => { const e = Math.round(Math.log10(v)); return (e < 0 || e > 4) ? '' : '10{s|' + e + '}'; },
        rich:{s:{fontSize:12, color:'#111', fontFamily:FONT, padding:[0,0,9,0]}}}},
    magAxis(1),
    magAxis(2)
  ],
  series:[
    histSeries('tm', tmOnlyCounts, C_MAG, C_MAG, 0.5, 2),
    histSeries('both', bothCounts, C_BLUE, C_BLUE, 0.5, 3),
    histSeries('dl', dlOnlyCounts, C_CYAN, '#1d6f70', 0.8, 4)
  ].concat(scatterSet(1, petMag, petBoth, petDL)).concat(scatterSet(2, ferMag, ferBoth, ferDL)),
  graphic: graphics
};
chart.setOption(option);
</script>
</body>
</html>
